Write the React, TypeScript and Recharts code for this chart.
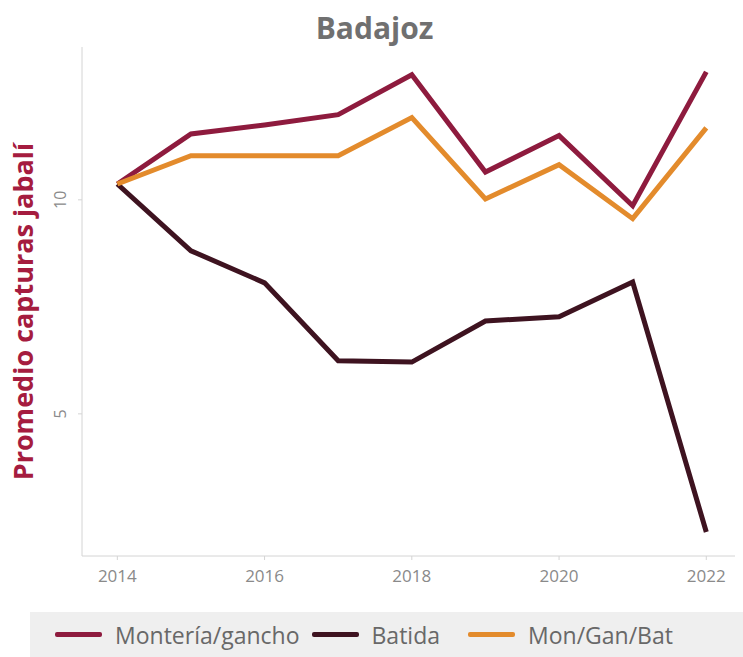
import React from "react";
import { LineChart, Line, XAxis, YAxis, Legend } from "recharts";

const years = [2014, 2015, 2016, 2017, 2018, 2019, 2020, 2021, 2022];
const monteria = [10.37, 11.54, 11.75, 11.99, 12.92, 10.65, 11.5, 9.86, 12.99];
const batida = [10.37, 8.81, 8.06, 6.24, 6.21, 7.17, 7.27, 8.08, 2.24];
const monGanBat = [10.37, 11.03, 11.03, 11.03, 11.92, 10.02, 10.82, 9.56, 11.68];
const xTicks = [2014, 2016, 2018, 2020, 2022];
const yTicks = [5, 10];

const seriesNames = ["Montería/gancho", "Batida", "Mon/Gan/Bat"];
const seriesColors = ["#8E1B3E", "#3E1320", "#E38B2C"];

const data = years.map((y, i) => ({
  year: y,
  monteria: monteria[i],
  batida: batida[i],
  monGanBat: monGanBat[i],
}));

const FONT = "'Open Sans', sans-serif";

const YTick = (props: any) => {
  const { x, y, payload } = props;
  const cx = x - 16;
  return (
    <text
      x={cx}
      y={y}
      transform={`rotate(-90 ${cx} ${y})`}
      textAnchor="middle"
      dominantBaseline="central"
      fill="#8a8a8a"
      fontSize={16}
      fontFamily={FONT}
    >
      {payload.value}
    </text>
  );
};

const XTick = (props: any) => {
  const { x, y, payload } = props;
  return (
    <text
      x={x}
      y={y + 20}
      textAnchor="middle"
      fill="#8a8a8a"
      fontSize={17}
      fontFamily={FONT}
    >
      {payload.value}
    </text>
  );
};

const YLabel = (props: any) => {
  const { viewBox } = props;
  const cx = 22;
  const cy = viewBox.y + viewBox.height / 2 + 10;
  return (
    <text
      x={cx}
      y={cy}
      transform={`rotate(-90 ${cx} ${cy})`}
      textAnchor="middle"
      dominantBaseline="central"
      fill="#A51C3F"
      fontSize={27}
      fontWeight={700}
      fontFamily={FONT}
    >
      Promedio capturas jabalí
    </text>
  );
};

const LegendContent = () => (
  <div
    style={{
      width: "100%",
      height: 45,
      background: "#EFEFEF",
      display: "flex",
      alignItems: "center",
      fontFamily: FONT,
      fontSize: 23,
      color: "#686868",
      boxSizing: "border-box",
      paddingLeft: 25,
    }}
  >
    {seriesNames.map((n, i) => (
      <div key={n} style={{ display: "flex", alignItems: "center", marginRight: i === 0 ? 12 : 28 }}>
        <div style={{ width: 47, height: 5, background: seriesColors[i], marginRight: 13, borderRadius: 2 }} />
        <span>{n}</span>
      </div>
    ))}
  </div>
);

export default function App() {
  return (
    <div style={{ position: "absolute", left: 0, top: 0, width: 743, height: 657, background: "#fff" }}>
      <div
        style={{
          position: "absolute",
          top: 7,
          left: 0,
          width: 743,
          textAlign: "center",
          paddingLeft: 6,
          boxSizing: "border-box",
          fontFamily: FONT,
          fontWeight: 700,
          fontSize: 30,
          color: "#707070",
          zIndex: 2,
        }}
      >
        Badajoz
      </div>
      <LineChart width={743} height={657} data={data} margin={{ top: 47, right: 8, left: 30, bottom: 0 }}>
        <XAxis
          dataKey="year"
          type="number"
          domain={[2013.52, 2022.39]}
          ticks={xTicks}
          height={56}
          axisLine={{ stroke: "#d4d4d4" }}
          tickLine={{ stroke: "#d4d4d4" }}
          tickSize={4}
          tick={<XTick />}
        />
        <YAxis
          type="number"
          domain={[1.68, 13.57]}
          ticks={yTicks}
          width={52}
          axisLine={{ stroke: "#d4d4d4" }}
          tickLine={{ stroke: "#d4d4d4" }}
          tickSize={4}
          tick={<YTick />}
          label={<YLabel />}
        />
        <Legend
          verticalAlign="bottom"
          height={45}
          content={<LegendContent />}
          wrapperStyle={{ left: 30, width: 713, bottom: 0, height: 45 }}
        />
        <Line dataKey="monteria" name={seriesNames[0]} stroke={seriesColors[0]} strokeWidth={5} dot={false} isAnimationActive={false} />
        <Line dataKey="batida" name={seriesNames[1]} stroke={seriesColors[1]} strokeWidth={5} dot={false} isAnimationActive={false} />
        <Line dataKey="monGanBat" name={seriesNames[2]} stroke={seriesColors[2]} strokeWidth={5} dot={false} isAnimationActive={false} />
      </LineChart>
    </div>
  );
}
